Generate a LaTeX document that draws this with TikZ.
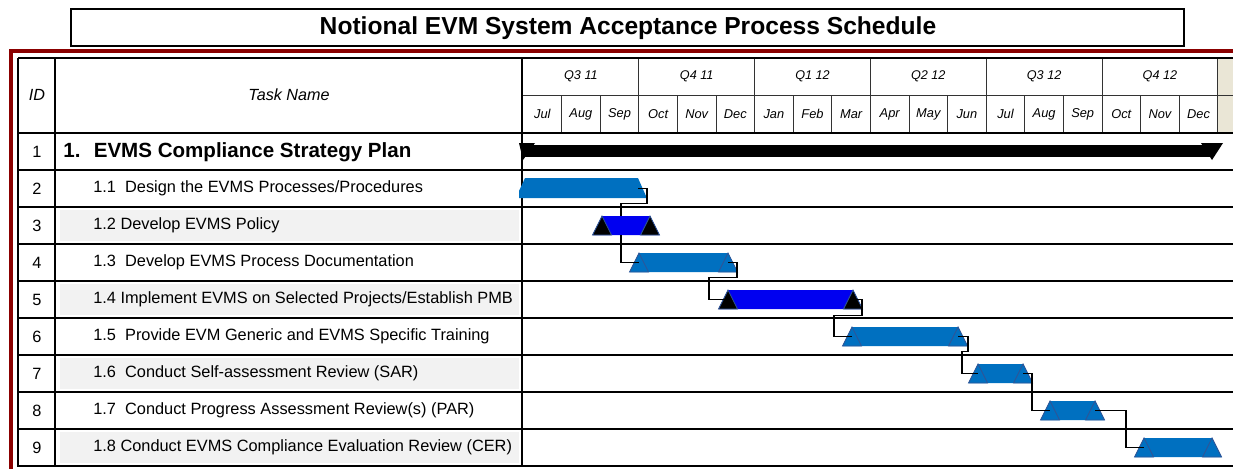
\documentclass[tikz,border=0pt]{standalone}
\usepackage{fontspec}
\setmainfont{Liberation Sans}
\usetikzlibrary{calc}

\definecolor{evmblue}{HTML}{0070C0}
\definecolor{evmdeep}{HTML}{0000F0}
\definecolor{evmedge}{HTML}{2F5597}
\definecolor{evmred}{HTML}{8B0000}
\definecolor{evmgray}{HTML}{F2F2F2}
\definecolor{evmbeige}{HTML}{EAE6D6}

\tikzset{
  task/.style={anchor=west, inner sep=0pt, font=\fontsize{9.3}{11}\selectfont},
  idnum/.style={inner sep=0pt, font=\fontsize{9.3}{11}\selectfont},
  hdr/.style={inner sep=0pt, font=\fontsize{9.2}{11}\selectfont\itshape},
  qtr/.style={inner sep=0pt, font=\fontsize{7.2}{8}\selectfont\itshape},
  mon/.style={inner sep=0pt, font=\fontsize{7.3}{8}\selectfont\itshape},
  rowline/.style={line width=1.1pt},
  cell/.style={line width=0.5pt, black!80},
  link/.style={line width=0.6pt}
}

% bar: name, row, start, finish, bar colour, end colour
\newcommand{\evmbar}[6]{%
  \pgfmathsetmacro\rc{114.5+37*#2}
  \coordinate (#1s) at (#3,\rc);
  \coordinate (#1e) at (#4,\rc);
  \fill[#5] (#3,\rc-9.5) -- (#4,\rc-9.5) -- (#4+9.5,\rc+9.5) -- (#3-9.5,\rc+9.5) -- cycle;
  \foreach \x in {#3,#4}
    \filldraw[fill=#6, draw=evmedge, line width=0.5pt]
      (\x,\rc-9.5) -- (\x+9.5,\rc+9.5) -- (\x-9.5,\rc+9.5) -- cycle;
}

\begin{document}
\begin{tikzpicture}[x=0.02cm, y=-0.02cm]
\useasboundingbox (0,0) rectangle (1233,468);
\clip (0,0) rectangle (1233,468);

% Title
\draw[line width=0.6pt] (71,9) rectangle (1184,46);
\node[font=\fontsize{14}{16}\selectfont\bfseries] (title) at (628,28)
  {Notional EVM System Acceptance Process Schedule};

% Frame
\draw[evmred, line width=2.3pt] (11,490) -- (11,51) -- (1250,51);

% Shaded rows
\foreach \i in {3,5,7,9}
  \fill[evmgray] (60,{133+37*(\i-1)+3}) rectangle (519,{133+37*\i-3});
\fill[evmbeige] (1217,58) rectangle (1240,133);

% Header cells
\draw[cell] (522,95) -- (1240,95);
\foreach \k in {1,...,18}
  \draw[cell] ({523+38.6*\k},95) -- ({523+38.6*\k},133);
\foreach \k in {1,...,6}
  \draw[cell] ({523+115.8*\k},58) -- ({523+115.8*\k},95);
\foreach \q [count=\k] in {Q3 11, Q4 11, Q1 12, Q2 12, Q3 12, Q4 12}
  \node[qtr] (q\k) at ({523+115.8*(\k-0.5)},76.5) {\q};
\foreach \m [count=\k] in {Jul, Aug, Sep, Oct, Nov, Dec, Jan, Feb, Mar,
                           Apr, May, Jun, Jul, Aug, Sep, Oct, Nov, Dec}
  \node[mon] (m\k) at ({523+38.6*(\k-0.5)},114) {\m};
\node[hdr] (idhdr) at (37,95) {ID};
\node[hdr] (taskhdr) at (289,95) {Task Name};

% Grid
\foreach \k in {0,...,9}
  \draw[rowline] (18,{133+37*\k}) -- (1240,{133+37*\k});
\draw[rowline] (18,58) -- (1240,58);
\draw[rowline] (18,57.5) -- (18,466.5);
\draw[rowline] (55,58) -- (55,466);
\draw[line width=0.9pt] (522,58) -- (522,466);

% Tasks
\foreach \i in {1,...,9}
  \node[idnum] (id\i) at (37,{114.5+37*\i}) {\i};
\node[task, font=\fontsize{11.7}{14}\selectfont\bfseries] (t1) at (63,152)
  {1.~ EVMS Compliance Strategy Plan};
\foreach \i/\txt in {2/{1.1~~Design the EVMS Processes/Procedures},
                     3/{1.2 Develop EVMS Policy},
                     4/{1.3~~Develop EVMS Process Documentation},
                     5/{1.4 Implement EVMS on Selected Projects/Establish PMB},
                     6/{1.5~~Provide EVM Generic and EVMS Specific Training},
                     7/{1.6~~Conduct Self-assessment Review (SAR)},
                     8/{1.7~~Conduct Progress Assessment Review(s) (PAR)},
                     9/{1.8 Conduct EVMS Compliance Evaluation Review (CER)}}
  \node[task] (t\i) at (93,{114.5+37*\i}) {\txt};

% Summary bar
\fill (523,145) rectangle (1212,157);
\fill (519,143) -- (535,143) -- (523,160) -- cycle;
\fill (1201,143) -- (1223,143) -- (1212,160) -- cycle;

% Task bars
\fill[evmblue] (525,178) -- (638,178) -- (646,196) -- (646,198)
  -- (519,198) -- (519,191) -- cycle;
\coordinate (b2e) at (638,188.5);
\evmbar{b3}{3}{602}{650}{evmdeep}{black}
\evmbar{b4}{4}{639}{728}{evmblue}{evmblue}
\evmbar{b5}{5}{728}{853}{evmdeep}{black}
\evmbar{b6}{6}{852}{958}{evmblue}{evmblue}
\evmbar{b7}{7}{978}{1023}{evmblue}{evmblue}
\evmbar{b8}{8}{1050}{1095}{evmblue}{evmblue}
\evmbar{b9}{9}{1144}{1212}{evmblue}{evmblue}

% Links
\draw[link] (b2e) -- ++(9,0) -- ++(0,15) -| ($(b3s)+(19,-9.5)$);
\draw[link] ($(b3s)+(19,9.5)$) |- (b4s);
\draw[link] (b4e) -- ++(9,0) -- ++(0,15) -| ($(b5s)+(-19,0)$) -- (b5s);
\draw[link] (b5e) -- ++(9,0) -- ++(0,16) -| ($(b6s)+(-18,0)$) -- (b6s);
\draw[link] (b6e) -- ++(10,0) -- ++(0,15) -| ($(b7s)+(-16,0)$) -- (b7s);
\draw[link] (b7e) -- ++(9,0) |- (b8s);
\draw[link] (b8e) -- ++(31,0) |- (b9s);

\end{tikzpicture}
\end{document}
